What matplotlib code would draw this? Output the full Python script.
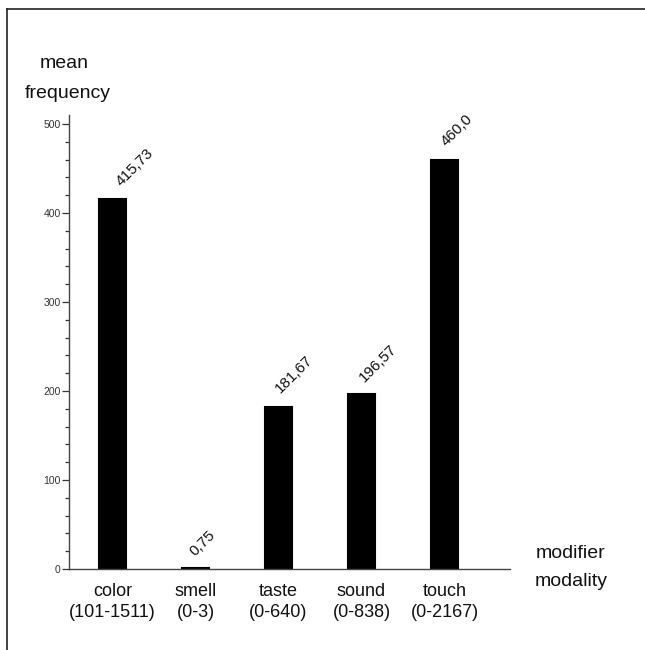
import matplotlib
matplotlib.use('Agg')
import matplotlib.pyplot as plt
from matplotlib.lines import Line2D
from matplotlib.ticker import MultipleLocator
from matplotlib.transforms import offset_copy

plt.rcParams['font.family'] = ['Liberation Sans', 'DejaVu Sans']

# data
modalities = ['color', 'smell', 'taste', 'sound', 'touch']
ranges = ['(101-1511)', '(0-3)', '(0-640)', '(0-838)', '(0-2167)']
mean_freq = [415.73, 0.75, 181.67, 196.57, 460.0]
value_labels = ['415,73', '0,75', '181,67', '196,57', '460,0']

# small hand nudges (points) for the rotated value labels, as in the original
label_dx = [8, 1.5, 3, 3.5, 2.5]
label_dy = [7, 7, 8.5, 7, 8]

fig = plt.figure(figsize=(6.45, 6.5), dpi=100)
ax = fig.add_axes([69/645, 1-569/650, (510-69)/645, (569-115)/650])

x = list(range(len(modalities)))
ax.bar(x, mean_freq, width=0.325, color='black', edgecolor='black', linewidth=1.5)

for i, v in enumerate(mean_freq):
  tr = offset_copy(ax.transData, fig=fig, x=label_dx[i], y=label_dy[i], units='points')
  ax.text(i, v, value_labels[i], transform=tr, rotation=45, rotation_mode='anchor',
          ha='left', va='bottom', fontsize=11, color='#111111')

ax.set_xlim(-0.524, 4.79)
ax.set_ylim(0, 510)
ax.yaxis.set_major_locator(MultipleLocator(100))
ax.yaxis.set_minor_locator(MultipleLocator(20))
ax.tick_params(axis='y', which='major', length=5, width=0.9, labelsize=7.5, colors='#333333', pad=1)
ax.tick_params(axis='y', which='minor', length=3, width=0.9, colors='#333333')
ax.set_xticks(x)
ax.set_xticklabels([m + '\n' + r for m, r in zip(modalities, ranges)], fontsize=13, linespacing=1.35)
ax.tick_params(axis='x', length=0, pad=10, labelcolor='#111111')

for s in ['top', 'right']:
  ax.spines[s].set_visible(False)
for s in ['left', 'bottom']:
  ax.spines[s].set_color('#444444')
  ax.spines[s].set_linewidth(1.0)

# axis titles
fig.text(64/645, 1-64/650, 'mean', ha='center', va='center', fontsize=14, color='#111111')
fig.text(68/645, 1-94/650, 'frequency', ha='center', va='center', fontsize=14, color='#111111')
fig.text(571/645, 1-553/650, 'modifier', ha='center', va='center', fontsize=14, color='#111111')
fig.text(571/645, 1-582/650, 'modality', ha='center', va='center', fontsize=14, color='#111111')

# frame (top and left edges only visible)
fig.add_artist(Line2D([7/645, 1], [1-9/650, 1-9/650], color='#222222', linewidth=1.2))
fig.add_artist(Line2D([7/645, 7/645], [0, 1-9/650], color='#222222', linewidth=1.2))

fig.savefig('out.png', dpi=100)
